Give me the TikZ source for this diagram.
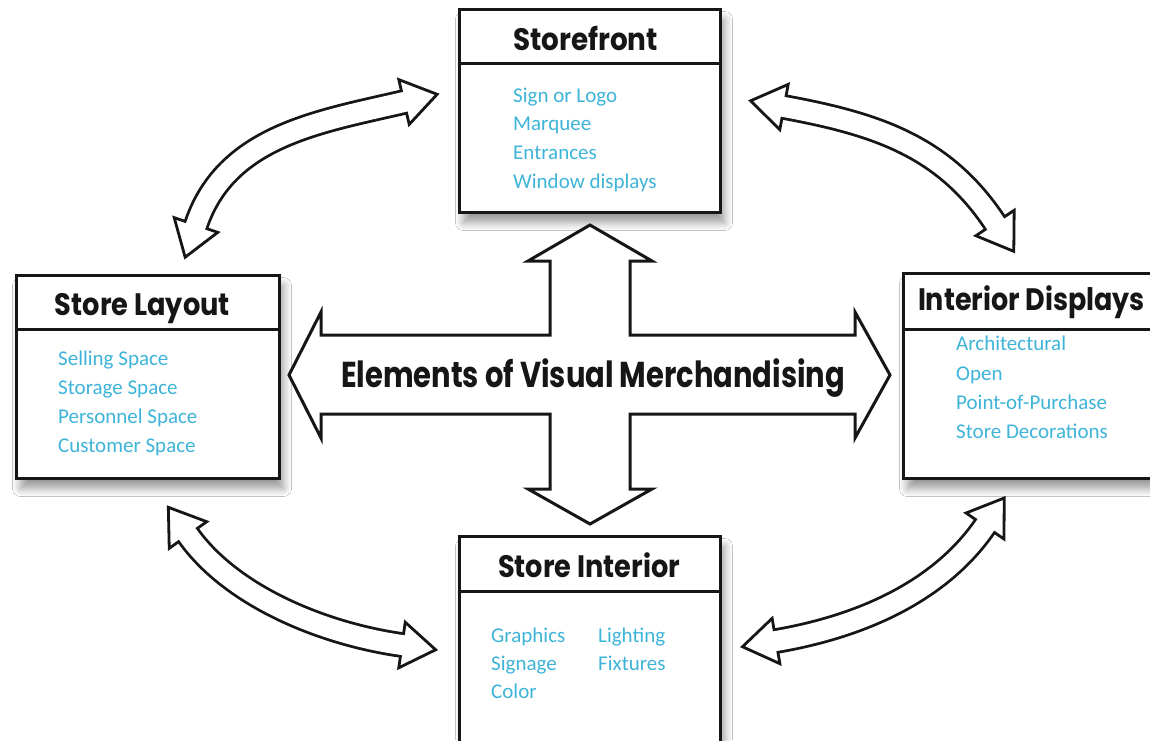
\documentclass[tikz,border=0pt]{standalone}
\usepackage{fontspec}
\usepackage{graphicx}
\usetikzlibrary{calc,shadows.blur}
\newfontfamily\tfont{Poppins}
\newfontfamily\ifont{Carlito}
\definecolor{itemc}{RGB}{62,180,216}
\definecolor{ink}{RGB}{22,22,22}
\newcommand\fitw[2]{\resizebox{#1}{\height}{#2}}
\newcommand\dcarrow[4]{%
  \coordinate (p) at #1; \coordinate (c1) at #2; \coordinate (c2) at #3; \coordinate (q) at #4;
  \draw[line width=25.6pt, ink] (p) .. controls (c1) and (c2) .. (q);
  \filldraw[headst] ($(p)!23pt!90:(c1)$) -- ($(p)!-34pt!(c1)$) -- ($(p)!23pt!-90:(c1)$) -- cycle;
  \filldraw[headst] ($(q)!23pt!90:(c2)$) -- ($(q)!-34pt!(c2)$) -- ($(q)!23pt!-90:(c2)$) -- cycle;
  \draw[line width=20pt, white] ($(p)!-4pt!(c1)$) -- (p) .. controls (c1) and (c2) .. (q) -- ($(q)!-4pt!(c2)$);
}
\begin{document}
\begin{tikzpicture}[x=1pt,y=-1pt,
  box/.style={draw=ink, line width=3pt, fill=white, inner sep=0pt, anchor=north west,
    blur shadow={shadow xshift=4pt, shadow yshift=-10pt, shadow blur radius=8pt, shadow blur steps=10, shadow opacity=40}},
  sepline/.style={draw=ink, line width=3pt},
  title/.style={anchor=base, inner sep=0pt, text=ink, font=\tfont\bfseries\fontsize{31}{31}\selectfont},
  item/.style={anchor=base west, inner sep=0pt, text=itemc, font=\ifont\fontsize{21}{21}\selectfont},
  headst/.style={draw=ink, fill=white, line width=2.8pt, line join=miter},
  cross/.style={draw=ink, fill=white, line width=3pt, line join=miter}]
\path[use as bounding box] (0,0) rectangle (1150,740);
\begin{scope}
\clip (0,0) rectangle (1150,740);
\fill[white] (0,0) rectangle (1150,740);

% boxes
\node[box, minimum width=261pt, minimum height=203pt] (sf) at (458,8) {};
\node[box, minimum width=263pt, minimum height=203pt] (sl) at (15,274) {};
\node[box, minimum width=265pt, minimum height=205pt] (id) at (902,272) {};
\node[box, minimum width=261pt, minimum height=225pt] (si) at (458,535) {};

\draw[sepline] (sf.west |- 0,63) -- (sf.east |- 0,63);
\draw[sepline] (sl.west |- 0,329) -- (sl.east |- 0,329);
\draw[sepline] (id.west |- 0,329) -- (id.east |- 0,329);
\draw[sepline] (si.west |- 0,591) -- (si.east |- 0,591);

% titles
\node[title] (sft) at (585.5,50) {\fitw{145pt}{Storefront}};
\node[title] (slt) at (142.5,315) {\fitw{175pt}{Store Layout}};
\node[title] (idt) at (1031.5,310) {\fitw{227pt}{Interior Displays}};
\node[title] (sit) at (589,577) {\fitw{182pt}{Store Interior}};

% items
\node[item] (sf1) at (513,102) {Sign or Logo};
\node[item] (sf2) at (513,130) {Marquee};
\node[item] (sf3) at (513,159) {Entrances};
\node[item] (sf4) at (513,188) {Window displays};

\node[item] (sl1) at (58,365) {Selling Space};
\node[item] (sl2) at (58,394) {Storage Space};
\node[item] (sl3) at (58,423) {Personnel Space};
\node[item] (sl4) at (58,452) {Customer Space};

\node[item] (id1) at (956,350) {Architectural};
\node[item] (id2) at (956,380) {Open};
\node[item] (id3) at (956,409) {Point-of-Purchase};
\node[item] (id4) at (956,438) {Store Decorations};

\node[item] (si1) at (491,642) {Graphics};
\node[item] (si2) at (491,670) {Signage};
\node[item] (si3) at (491,698) {Color};
\node[item] (si4) at (598,642) {Lighting};
\node[item] (si5) at (598,670) {Fixtures};

% central cross arrow
\draw[cross] (590,225) -- (652,261) -- (630,261) -- (630,335) -- (855,335) -- (855,312)
  -- (890,375) -- (855,438) -- (855,414) -- (630,414) -- (630,489) -- (652,489)
  -- (590,524) -- (528,489) -- (550,489) -- (550,414) -- (321,414) -- (321,438)
  -- (289,375) -- (321,312) -- (321,335) -- (550,335) -- (550,261) -- (528,261) -- cycle;
\node[anchor=base, inner sep=0pt, text=ink, font=\tfont\bfseries\fontsize{36}{36}\selectfont] (evm) at (593,387) {\fitw{504pt}{Elements of Visual Merchandising}};

% curved double arrows
\dcarrow{(196,225)}{(226,136)}{(318,122)}{(404,102)}
\dcarrow{(784,107)}{(876,124)}{(944,146)}{(995,223)}
\dcarrow{(188,535)}{(232,597)}{(324,634)}{(402,645)}
\dcarrow{(776,641)}{(858,627)}{(939,593)}{(985,526)}
\end{scope}
\end{tikzpicture}
\end{document}
